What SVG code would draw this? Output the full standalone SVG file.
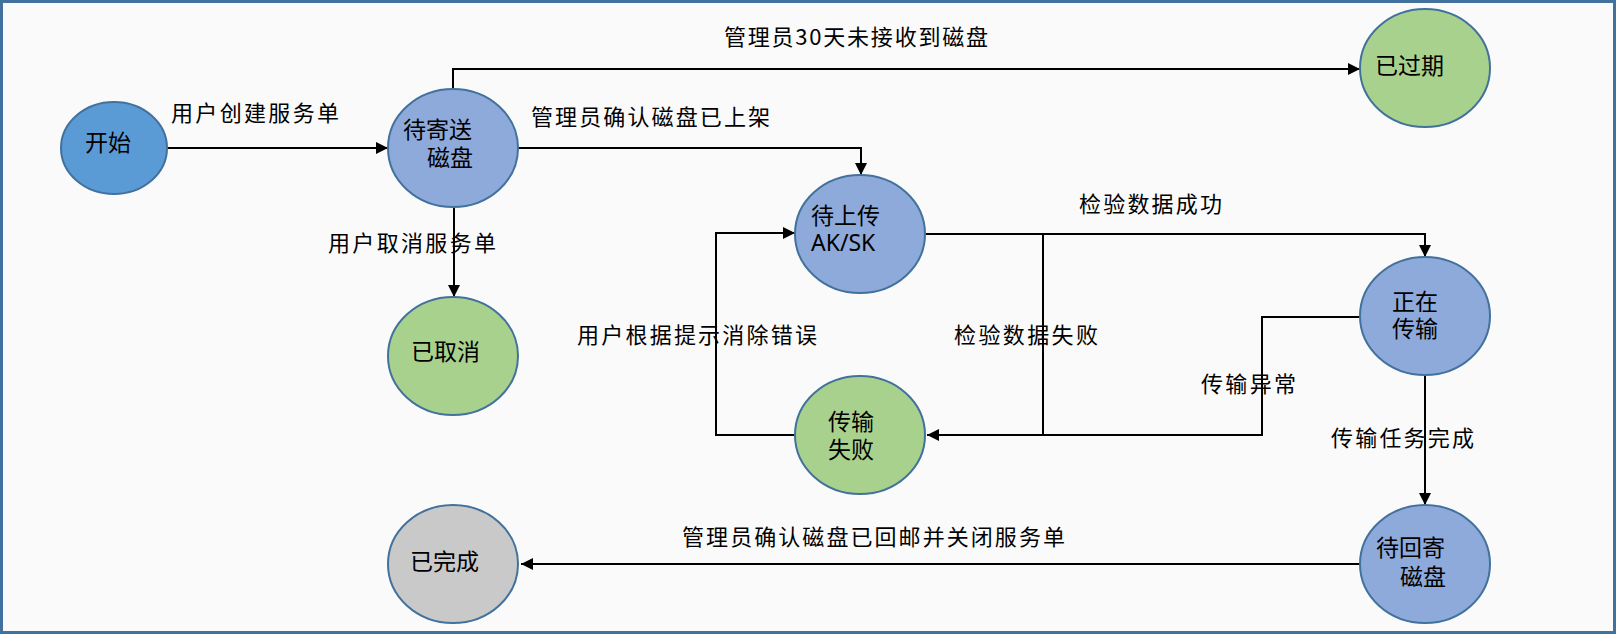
<svg xmlns="http://www.w3.org/2000/svg" width="1616" height="634" viewBox="0 0 1616 634">
<style>
.node{stroke:#41719c;stroke-width:2}
.start{fill:#5b9bd5}
.blue{fill:#8eaadb}
.green{fill:#a9d18e}
.gray{fill:#c9c9c9}
.t{font-family:"Noto Sans CJK SC","Noto Sans",sans-serif;font-size:23px;fill:#000}
.lat{font-family:"Noto Sans","Noto Sans CJK SC",sans-serif}
.lbl{font-family:"Noto Sans CJK SC","Noto Sans",sans-serif;font-size:22px;fill:#000}
.edge{fill:none;stroke:#000;stroke-width:2}
</style>
<defs>
<marker id="arr" markerUnits="userSpaceOnUse" markerWidth="12" markerHeight="12" refX="12" refY="6" orient="auto">
<path d="M0,0 L12,6 L0,12 z" fill="#000"/>
</marker>
</defs>
<rect x="1.5" y="1.5" width="1613" height="631" fill="#fafafa" stroke="#41719c" stroke-width="3"/>
<g id="connectors">
<path class="edge" d="M167,148 H388" marker-end="url(#arr)"/>
<path class="edge" d="M453,89 V69 H1360" marker-end="url(#arr)"/>
<path class="edge" d="M518,148 H861 V175" marker-end="url(#arr)"/>
<path class="edge" d="M454,208 V297" marker-end="url(#arr)"/>
<path class="edge" d="M926,234 H1425 V257" marker-end="url(#arr)"/>
<path class="edge" d="M1043,234 V435 H927" marker-end="url(#arr)"/>
<path class="edge" d="M1360,317 H1262 V435 H1043"/>
<path class="edge" d="M795,435 H716 V233 H795" marker-end="url(#arr)"/>
<path class="edge" d="M1425,376 V505" marker-end="url(#arr)"/>
<path class="edge" d="M1360,564 H521" marker-end="url(#arr)"/>
<text class="lbl" x="171" y="121" textLength="168" lengthAdjust="spacing">用户创建服务单</text>
<text class="lbl" x="724" y="45" textLength="264" lengthAdjust="spacing">管理员30天未接收到磁盘</text>
<text class="lbl" x="531" y="125" textLength="239" lengthAdjust="spacing">管理员确认磁盘已上架</text>
<text class="lbl" x="328" y="251" textLength="168" lengthAdjust="spacing">用户取消服务单</text>
<text class="lbl" x="1079" y="212" textLength="143" lengthAdjust="spacing">检验数据成功</text>
<text class="lbl" x="954" y="343" textLength="144" lengthAdjust="spacing">检验数据失败</text>
<text class="lbl" x="577" y="343" textLength="240" lengthAdjust="spacing">用户根据提示消除错误</text>
<text class="lbl" x="1201" y="392" textLength="95" lengthAdjust="spacing">传输异常</text>
<text class="lbl" x="1331" y="446" textLength="143" lengthAdjust="spacing">传输任务完成</text>
<text class="lbl" x="682" y="545" textLength="383" lengthAdjust="spacing">管理员确认磁盘已回邮并关闭服务单</text>
</g>
<g id="node-start">
<ellipse class="node start" cx="114" cy="148" rx="53" ry="46"/>
<text class="t" x="85" y="151">开始</text>
</g>
<g id="node-wait-send">
<ellipse class="node blue" cx="453" cy="148" rx="65" ry="59"/>
<text class="t"><tspan x="403" y="138">待寄送</tspan><tspan x="427" y="166">磁盘</tspan></text>
</g>
<g id="node-expired">
<ellipse class="node green" cx="1425" cy="68" rx="65" ry="59"/>
<text class="t" x="1375" y="74">已过期</text>
</g>
<g id="node-cancelled">
<ellipse class="node green" cx="453" cy="356" rx="65" ry="59"/>
<text class="t" x="411" y="360">已取消</text>
</g>
<g id="node-wait-upload">
<ellipse class="node blue" cx="860" cy="234" rx="65" ry="59"/>
<text class="t"><tspan x="811" y="224">待上传</tspan><tspan class="lat" x="811" y="251">AK/SK</tspan></text>
</g>
<g id="node-transfer-failed">
<ellipse class="node green" cx="860" cy="435" rx="65" ry="59"/>
<text class="t"><tspan x="828" y="430">传输</tspan><tspan x="828" y="458">失败</tspan></text>
</g>
<g id="node-transferring">
<ellipse class="node blue" cx="1425" cy="316" rx="65" ry="59"/>
<text class="t"><tspan x="1392" y="310">正在</tspan><tspan x="1392" y="337">传输</tspan></text>
</g>
<g id="node-wait-return">
<ellipse class="node blue" cx="1425" cy="564" rx="65" ry="59"/>
<text class="t"><tspan x="1376" y="556">待回寄</tspan><tspan x="1400" y="585">磁盘</tspan></text>
</g>
<g id="node-done">
<ellipse class="node gray" cx="453" cy="564" rx="65" ry="59"/>
<text class="t" x="410" y="570">已完成</text>
</g>
</svg>
